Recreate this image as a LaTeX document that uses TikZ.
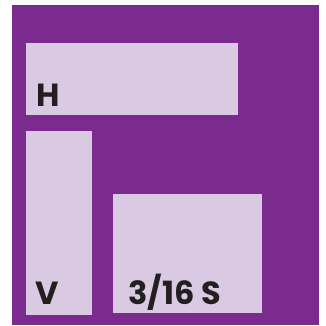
\documentclass[tikz,border=0pt]{standalone}
\usepackage{fontspec}
\setmainfont{Poppins}[BoldFont={* Bold}]
\definecolor{bgpurple}{HTML}{7B2A8D}
\definecolor{boxlilac}{HTML}{D9C9E3}
\definecolor{inkdark}{HTML}{231F20}
\tikzset{
  panel/.style={fill=boxlilac, draw=none},
  lbl/.style={anchor=base west, inner sep=0pt, text=inkdark, font=\fontsize{32}{32}\selectfont\bfseries}
}
\begin{document}
\begin{tikzpicture}[x=1pt,y=-1pt]
\useasboundingbox (0,0) rectangle (326,325);
\fill[white] (0,0) rectangle (326,325);
\fill[bgpurple] (12,5) rectangle (319,325);
\path[panel] (26,43) rectangle (238,115);
\path[panel] (26,131) rectangle (92,315);
\path[panel] (113,194) rectangle (262,313);
\node[lbl] (h) at (36,106) {H};
\node[lbl] (v) at (35,304) {V};
\node[lbl] (s) at (128,304) {3/16 S};
\end{tikzpicture}
\end{document}
